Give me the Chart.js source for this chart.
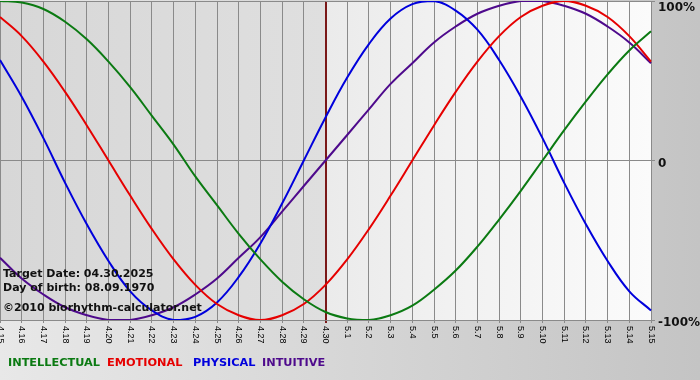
<!DOCTYPE html>
<html>
<head>
<meta charset="utf-8">
<script src="https://cdn.jsdelivr.net/npm/chart.js@4"></script>
<style>
  html, body { margin: 0; padding: 0; background: #fff; }
  canvas { display: block; }
</style>
</head>
<body>
<canvas id="bio" width="700" height="380"></canvas>
<script>
const days = ['4.15','4.16','4.17','4.18','4.19','4.20','4.21','4.22','4.23','4.24','4.25','4.26','4.27','4.28','4.29','4.30',
  '5.1','5.2','5.3','5.4','5.5','5.6','5.7','5.8','5.9','5.10','5.11','5.12','5.13','5.14','5.15'];

// values, -1 .. 1
const intellectual = [1.00, 0.99, 0.95, 0.87, 0.76, 0.62, 0.46, 0.28, 0.10, -0.10, -0.28, -0.46, -0.62, -0.76, -0.87, -0.95,
  -0.99, -1.00, -0.97, -0.91, -0.81, -0.69, -0.54, -0.37, -0.19, 0.00, 0.19, 0.37, 0.54, 0.69, 0.81];
const emotional = [0.90, 0.78, 0.62, 0.43, 0.22, 0.00, -0.22, -0.43, -0.62, -0.78, -0.90, -0.97, -1.00, -0.97, -0.90, -0.78,
  -0.62, -0.43, -0.22, 0.00, 0.22, 0.43, 0.62, 0.78, 0.90, 0.97, 1.00, 0.97, 0.90, 0.78, 0.62];
const physical = [0.63, 0.40, 0.14, -0.14, -0.40, -0.63, -0.82, -0.94, -1.00, -0.98, -0.89, -0.73, -0.52, -0.27, 0.00, 0.27,
  0.52, 0.73, 0.89, 0.98, 1.00, 0.94, 0.82, 0.63, 0.40, 0.14, -0.14, -0.40, -0.63, -0.82, -0.94];
const intuitive = [-0.61, -0.74, -0.84, -0.92, -0.97, -1.00, -1.00, -0.97, -0.92, -0.84, -0.74, -0.61, -0.48, -0.32, -0.16, 0.00,
  0.16, 0.32, 0.48, 0.61, 0.74, 0.84, 0.92, 0.97, 1.00, 1.00, 0.97, 0.92, 0.84, 0.74, 0.61];

const yTicks = [1, 0, -1];
const yTickLabels = ['100%', '0', '-100%'];
const targetIndex = 15;
const infoLines = ['Target Date: 04.30.2025', 'Day of birth: 08.09.1970', '\u00a92010 biorhythm-calculator.net'];

const colors = { intellectual: '#0b7a12', emotional: '#e60000', physical: '#0000dc', intuitive: '#4e0a8c' };
const gridColor = '#8a8a8a';
const legendX = [8, 107, 193, 262];

const decor = {
  id: 'decor',
  beforeDraw(chart) {
    const c = chart.ctx, a = chart.chartArea;
    const W = chart.width, H = chart.height;
    c.save();
    let g = c.createLinearGradient(0, 0, W, 0);
    g.addColorStop(0, '#e8e8e8');
    g.addColorStop(1, '#c4c4c4');
    c.fillStyle = g;
    c.fillRect(0, 0, W, H);

    const xm = chart.scales.x.getPixelForValue(targetIndex);
    g = c.createLinearGradient(a.left, 0, xm, 0);
    g.addColorStop(0, '#d7d7d7');
    g.addColorStop(1, '#dfdfdf');
    c.fillStyle = g;
    c.fillRect(a.left, a.top, xm - a.left, a.bottom - a.top);
    g = c.createLinearGradient(xm, 0, a.right, 0);
    g.addColorStop(0, '#ebebeb');
    g.addColorStop(1, '#fbfbfb');
    c.fillStyle = g;
    c.fillRect(xm, a.top, a.right - xm, a.bottom - a.top);
    c.restore();
  },
  afterDraw(chart) {
    const c = chart.ctx, a = chart.chartArea;
    const xs = chart.scales.x, ys = chart.scales.y;
    c.save();

    // rotated day labels
    c.fillStyle = '#000';
    c.font = '9px "Liberation Sans"';
    c.textAlign = 'left';
    c.textBaseline = 'middle';
    days.forEach((d, i) => {
      c.save();
      c.translate(xs.getPixelForValue(i), a.bottom + 6);
      c.rotate(Math.PI / 2);
      c.fillText(d, 0, 0);
      c.restore();
    });

    // right hand percent labels
    c.font = 'bold 12px "DejaVu Sans"';
    c.fillStyle = '#111';
    yTicks.forEach((v, i) => {
      const y = Math.max(ys.getPixelForValue(v) + 3, 8);
      c.fillText(yTickLabels[i], a.right + 7, y);
    });

    // info text
    c.font = 'bold 11px "DejaVu Sans"';
    c.textBaseline = 'alphabetic';
    c.fillText(infoLines[0], 3, 277);
    c.fillText(infoLines[1], 3, 291);
    c.fillText(infoLines[2], 3, 311);

    // legend
    c.font = 'bold 11.3px "DejaVu Sans"';
    chart.data.datasets.forEach((ds, i) => {
      c.fillStyle = ds.borderColor;
      c.fillText(ds.label, legendX[i], 366);
    });
    c.restore();
  }
};

new Chart(document.getElementById('bio'), {
  type: 'line',
  data: {
    labels: days,
    datasets: [
      { label: 'INTELLECTUAL', data: intellectual, borderColor: colors.intellectual },
      { label: 'EMOTIONAL', data: emotional, borderColor: colors.emotional },
      { label: 'PHYSICAL', data: physical, borderColor: colors.physical },
      { label: 'INTUITIVE', data: intuitive, borderColor: colors.intuitive }
    ]
  },
  options: {
    responsive: false,
    animation: false,
    layout: { padding: { left: 0, right: 0, top: 1, bottom: 0 } },
    elements: {
      point: { radius: 0 },
      line: { borderWidth: 2, tension: 0.4, fill: false }
    },
    plugins: { legend: { display: false }, tooltip: { enabled: false } },
    scales: {
      x: {
        offset: false,
        ticks: { display: false },
        border: { display: false },
        grid: {
          tickLength: 3,
          color: c => c.index === targetIndex ? '#7a1818' : gridColor,
          lineWidth: c => c.index === targetIndex ? 2 : 1
        },
        afterFit: s => { s.height = 60; }
      },
      y: {
        position: 'right',
        min: -1,
        max: 1,
        ticks: { display: false, stepSize: 1 },
        border: { display: false },
        grid: { color: gridColor, tickLength: 4 },
        afterFit: s => { s.width = 49; }
      }
    }
  },
  plugins: [decor]
});
</script>
</body>
</html>
